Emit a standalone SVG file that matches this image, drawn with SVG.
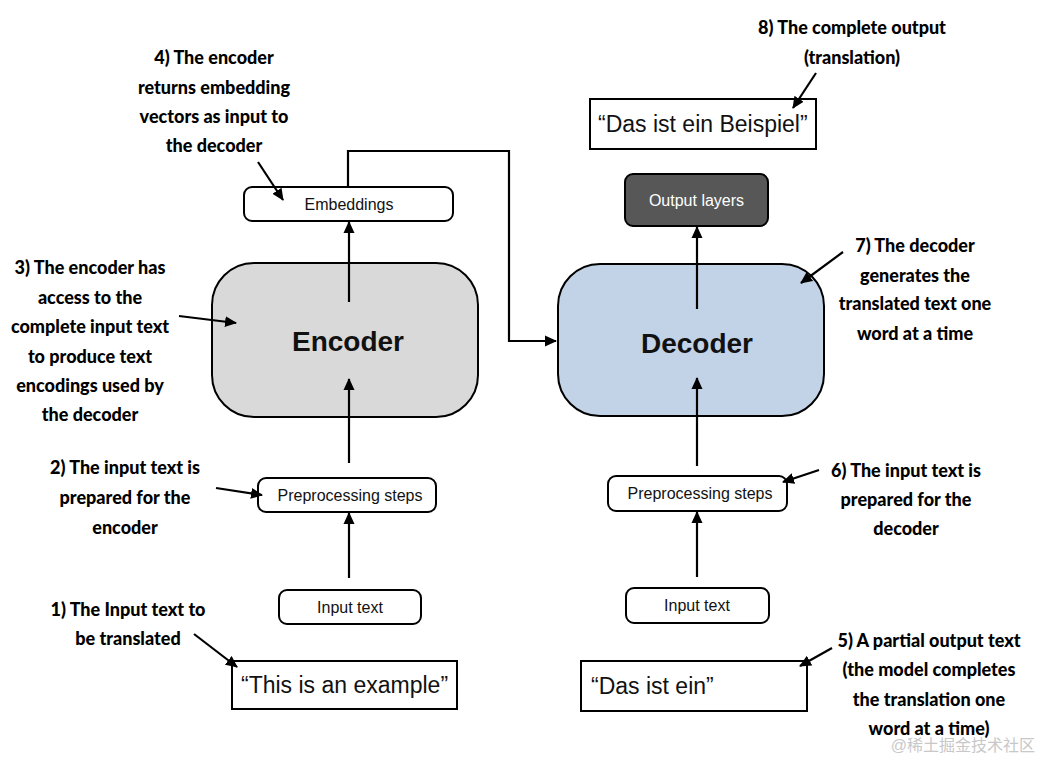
<svg xmlns="http://www.w3.org/2000/svg" width="1042" height="761" viewBox="0 0 1042 761">
<defs>
<marker id="ah" markerWidth="12" markerHeight="12" refX="11" refY="6" orient="auto" markerUnits="userSpaceOnUse">
<path d="M0,0.5 L12,6 L0,11.5 Z" fill="#000"/>
</marker>
<style>
.box{fill:#fff;stroke:#000;stroke-width:2}
.lbl{font-family:"Liberation Sans",Arial,sans-serif;font-size:16px;fill:#111;text-anchor:middle}
.big{font-family:"Liberation Sans",Arial,sans-serif;font-size:28px;font-weight:bold;fill:#111;text-anchor:middle}
.quote{font-family:"Liberation Sans",Arial,sans-serif;font-size:23px;fill:#111}
.ann{font-family:Lato,"Open Sans",sans-serif;font-size:18px;font-weight:900;fill:#000;text-anchor:middle}
.arr{fill:none;stroke:#000;stroke-width:2.2;marker-end:url(#ah)}
</style>
</defs>
<rect width="1042" height="761" fill="#fff"/>

<g id="embeddings">
<rect class="box" x="244" y="187" width="209" height="34" rx="8"/>
<text class="lbl" x="349" y="209.5">Embeddings</text>
</g>
<g id="encoder">
<rect x="212" y="263" width="266" height="154" rx="42" fill="#d9d9d9" stroke="#000" stroke-width="2"/>
<text class="big" x="348" y="351">Encoder</text>
</g>
<g id="preprocessing-enc">
<rect class="box" x="258" y="478" width="178" height="34" rx="8"/>
<text class="lbl" x="350" y="500.5">Preprocessing steps</text>
</g>
<g id="input-enc">
<rect class="box" x="279" y="590" width="142" height="34" rx="8"/>
<text class="lbl" x="350" y="612.5">Input text</text>
</g>
<g id="source-text">
<rect class="box" x="232" y="661" width="225" height="48"/>
<text class="quote" x="241" y="693">“This is an example”</text>
</g>

<g id="output-text">
<rect class="box" x="590" y="99" width="226" height="50"/>
<text class="quote" x="598" y="132">“Das ist ein Beispiel”</text>
</g>
<g id="output-layers">
<rect x="625" y="174" width="143" height="52" rx="8" fill="#575757" stroke="#000" stroke-width="2"/>
<text class="lbl" x="696.5" y="205.5" style="fill:#fff">Output layers</text>
</g>
<g id="decoder">
<rect x="558" y="264" width="266" height="152" rx="42" fill="#c2d2e7" stroke="#000" stroke-width="2"/>
<text class="big" x="697" y="353">Decoder</text>
</g>
<g id="preprocessing-dec">
<rect class="box" x="608" y="476" width="179" height="35" rx="8"/>
<text class="lbl" x="700" y="498.5">Preprocessing steps</text>
</g>
<g id="input-dec">
<rect class="box" x="626" y="588" width="143" height="35" rx="8"/>
<text class="lbl" x="697" y="610.5">Input text</text>
</g>
<g id="partial-text">
<rect class="box" x="581" y="661" width="226" height="50"/>
<text class="quote" x="591" y="694">“Das ist ein”</text>
</g>

<g id="connectors">
<line class="arr" x1="349" y1="302" x2="349" y2="222"/>
<line class="arr" x1="349" y1="463" x2="349" y2="379"/>
<line class="arr" x1="349" y1="578" x2="349" y2="513"/>
<polyline class="arr" points="348,187 348,151 509,151 509,341 556,341"/>
<line class="arr" x1="697" y1="309" x2="697" y2="227"/>
<line class="arr" x1="697" y1="466" x2="697" y2="378"/>
<line class="arr" x1="697" y1="577" x2="697" y2="512"/>
<line class="arr" x1="258" y1="162" x2="283" y2="200"/>
<line class="arr" x1="816" y1="73" x2="793" y2="108"/>
<line class="arr" x1="179" y1="316" x2="236" y2="323"/>
<line class="arr" x1="216" y1="488" x2="262" y2="495"/>
<line class="arr" x1="194" y1="634" x2="237" y2="667"/>
<line class="arr" x1="843" y1="252" x2="801" y2="283"/>
<line class="arr" x1="819" y1="470" x2="783" y2="482"/>
<line class="arr" x1="832" y1="648" x2="800" y2="666"/>
</g>

<g id="annotations">
<text class="ann" x="214"><tspan x="214" y="64">4) The encoder</tspan><tspan x="214" y="94">returns embedding</tspan><tspan x="214" y="123">vectors as input to</tspan><tspan x="214" y="152">the decoder</tspan></text>
<text class="ann" x="852"><tspan x="852" y="34">8) The complete output</tspan><tspan x="852" y="64">(translation)</tspan></text>
<text class="ann" x="90"><tspan x="90" y="274">3) The encoder has</tspan><tspan x="90" y="304">access to the</tspan><tspan x="90" y="333">complete input text</tspan><tspan x="90" y="363">to produce text</tspan><tspan x="90" y="392">encodings used by</tspan><tspan x="90" y="421">the decoder</tspan></text>
<text class="ann" x="125"><tspan x="125" y="474">2) The input text is</tspan><tspan x="125" y="504">prepared for the</tspan><tspan x="125" y="534">encoder</tspan></text>
<text class="ann" x="128"><tspan x="128" y="616">1) The Input text to</tspan><tspan x="128" y="645">be translated</tspan></text>
<text class="ann" x="915"><tspan x="915" y="252">7) The decoder</tspan><tspan x="915" y="282">generates the</tspan><tspan x="915" y="310">translated text one</tspan><tspan x="915" y="340">word at a time</tspan></text>
<text class="ann" x="906"><tspan x="906" y="477">6) The input text is</tspan><tspan x="906" y="506">prepared for the</tspan><tspan x="906" y="535">decoder</tspan></text>
<text class="ann" x="929"><tspan x="929" y="647">5) A partial output text</tspan><tspan x="929" y="676">(the model completes</tspan><tspan x="929" y="706">the translation one</tspan><tspan x="929" y="735">word at a time)</tspan></text>
</g>
<text x="1035" y="751" text-anchor="end" style="font-family:'Liberation Sans','Noto Sans CJK SC',sans-serif;font-size:16px;fill:#c8c8c8">@稀土掘金技术社区</text>
</svg>
